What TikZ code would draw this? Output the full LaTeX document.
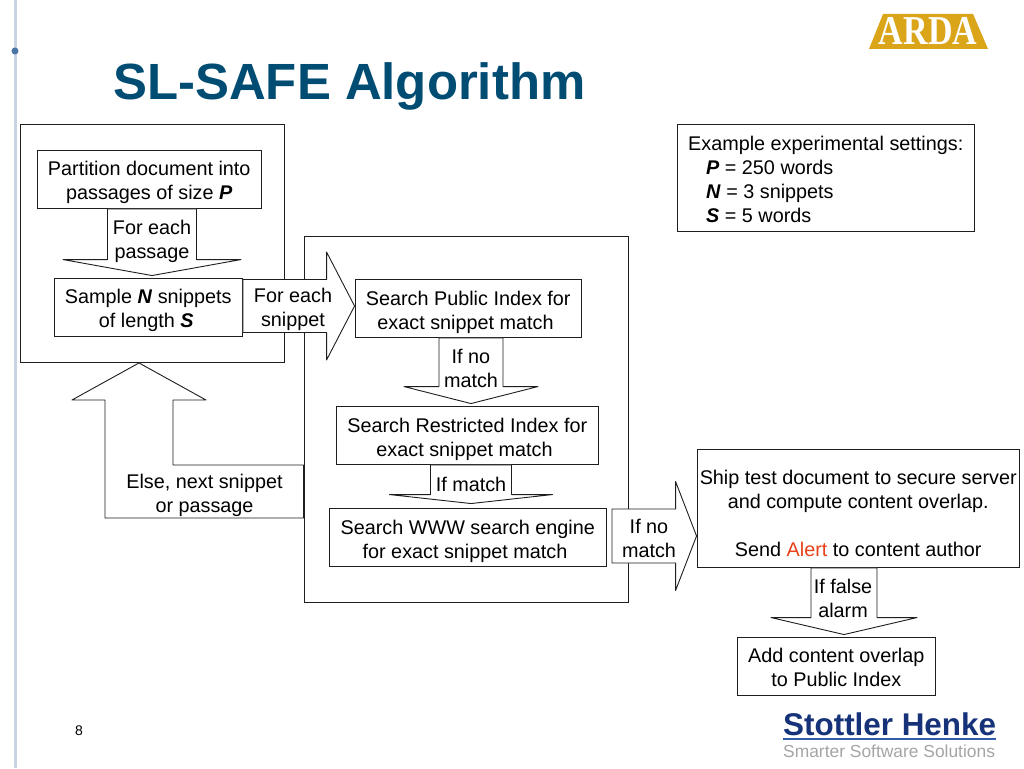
\documentclass[tikz,border=0pt]{standalone}
\usepackage{fontspec}
\setmainfont{Liberation Sans}
\newfontfamily\logofont{Liberation Serif}
\usetikzlibrary{calc}
\definecolor{titleblue}{RGB}{0,76,115}
\definecolor{barblue}{RGB}{200,212,228}
\definecolor{dotblue}{RGB}{74,118,165}
\definecolor{ardagold}{RGB}{219,165,25}
\definecolor{alertred}{RGB}{232,64,24}
\definecolor{henkeblue}{RGB}{22,50,120}
\definecolor{henkeline}{RGB}{46,92,168}
\definecolor{henkegrey}{RGB}{165,165,168}
\definecolor{lineblack}{RGB}{30,30,30}
\tikzset{
 flowbox/.style={draw=lineblack,line width=.9pt,fill=white,align=center,inner sep=0pt,text depth=0pt,text height=40.5pt,
  font=\fontsize{19.8}{24}\selectfont},
 framebox/.style={draw=lineblack,line width=.9pt,inner sep=0pt},
 blockarrow/.style={draw=lineblack,line width=.9pt,fill=white,line join=round},
 arrowtext/.style={align=center,inner sep=0pt,font=\fontsize{19.8}{24}\selectfont}
}
\newcommand{\blockdown}[7]{
 \coordinate (#1) at #2;
 \coordinate (#1tip) at ($(#1 |- #4)+(0,-2)$);
 \draw[blockarrow] ($(#1 |- #3)+(-#5,0)$)--($(#1tip)+(-#5,-#7)$)--($(#1tip)+(-#6,-#7)$)
  --(#1tip)--($(#1tip)+(#6,-#7)$)--($(#1tip)+(#5,-#7)$)--($(#1 |- #3)+(#5,0)$)--cycle;
}
\newcommand{\blockright}[7]{
 \coordinate (#1) at #2;
 \draw[blockarrow] ($(#3 |- #1)+(0,-#5)$)--($(#4 |- #1)+(-#7,-#5)$)--($(#4 |- #1)+(-#7,-#6)$)
  --(#4 |- #1)--($(#4 |- #1)+(-#7,#6)$)--($(#4 |- #1)+(-#7,#5)$)--($(#3 |- #1)+(0,#5)$)--cycle;
}
\begin{document}
\begin{tikzpicture}[x=1pt,y=-1pt,line cap=butt]
 \useasboundingbox (0,0) rectangle (1024,768);
 \fill[white] (0,0) rectangle (1024,768);
 \fill[barblue] (14,0) rectangle (17,768);
 \fill[dotblue] (15,51) circle (3.5);
 \node[anchor=base west,inner sep=0pt,text=titleblue,font=\fontsize{50.9}{60}\selectfont\bfseries] (title) at (113,99.5) {SL-SAFE Algorithm};
 \fill[ardagold] (883,14)--(973,14)--(988,49)--(869,49)--cycle;
 \node[text=white,inner sep=0pt,xscale=.83,transform shape,font=\fontsize{41}{44}\logofont\bfseries] (arda) at (928,31.5) {ARDA};
 \node[anchor=base west,inner sep=0pt,text=henkeblue,font=\fontsize{31.4}{34}\selectfont\bfseries] (henke) at (783,735) {Stottler Henke};
 \draw[henkeline,line width=1.8pt] (783,739)--(996,739);
 \node[anchor=base west,inner sep=0pt,text=henkegrey,font=\fontsize{17.4}{20}\selectfont] (smarter) at (783,757) {Smarter Software Solutions};
 \node[inner sep=0pt,font=\fontsize{14}{16}\selectfont] (pagenum) at (79,731) {8};
 % frames
 \node[framebox,minimum width=264.5pt,minimum height=238.5pt] (leftframe) at (152.25,243.25) {};
 \node[framebox,minimum width=324.5pt,minimum height=366.5pt] (rightframe) at (466.25,419.25) {};
 % boxes
 \node[flowbox,minimum width=224.5pt,minimum height=58.5pt] (partbox) at (149.25,179.25) {Partition document into\\passages of size \textbf{\textit{P}}};
 \node[flowbox,minimum width=188.5pt,minimum height=58.5pt] (samplebox) at (148.25,307.25) {Sample \textbf{\textit{N}} snippets\\of length \textbf{\textit{S}}\hspace*{4pt}};
 \node[flowbox,text height=42.5pt,minimum width=226.5pt,minimum height=58.5pt] (publicbox) at (468.25,308.25) {Search Public Index for\\exact snippet match\hspace*{5.5pt}};
 \node[flowbox,text height=42.5pt,minimum width=262.5pt,minimum height=58.5pt] (restrictbox) at (467.25,435.25) {Search Restricted Index for\\exact snippet match\hspace*{5.5pt}};
 \node[flowbox,text height=42.5pt,minimum width=277.5pt,minimum height=58.5pt] (wwwbox) at (467.75,537.25) {Search WWW search engine\\for exact snippet match\hspace*{5.5pt}};
 \node[flowbox,text height=96pt,minimum width=322.5pt,minimum height=118.5pt] (shipbox) at (858.25,508.25) {Ship test document to secure server\\and compute content overlap.\\[23.5pt]Send \textcolor{alertred}{Alert} to content author};
 \node[flowbox,minimum width=198.5pt,minimum height=58.5pt] (addbox) at (836.25,666.25) {Add content overlap\\to Public Index};
 \node[flowbox,text height=88.5pt,minimum width=297.5pt,minimum height=107.5pt,align=left] (settingsbox) at (825.75,177.75) {Example experimental settings:\\\hspace*{18pt}\textbf{\textit{P}} = 250 words\\\hspace*{18pt}\textbf{\textit{N}} = 3 snippets\\\hspace*{18pt}\textbf{\textit{S}} = 5 words};
 % block arrows
 \coordinate (wwwtop) at ($(wwwbox.north)+(0,-2)$);
 \coordinate (wwwgap) at ($(wwwbox.east)+(5,0)$);
 \blockdown{eachpass}{(152,240)}{partbox.south}{samplebox.north}{44.5}{89}{16}
 \blockright{eachsnip}{(293,306)}{samplebox.east}{publicbox.west}{26.5}{54}{28}
 \blockdown{nomatch}{(471,369)}{publicbox.south}{restrictbox.north}{32}{67}{17}
 \blockdown{ifmatch}{(471,483)}{restrictbox.south}{wwwtop}{40.5}{81.5}{9}
 \blockright{wwwnomatch}{(649,536)}{wwwgap}{shipbox.west}{27}{54.5}{21}
 \blockdown{falsealarm}{(844,598)}{shipbox.south}{addbox.north}{33}{73}{17}
 \draw[blockarrow] (rightframe.west |- 0,465)--(173,465)--(173,400)--(206,400)--(139,0 |- leftframe.south)
  --(72,400)--(105,400)--(105,518)--(rightframe.west |- 0,518)--cycle;
 % arrow labels
 \node[arrowtext] (eachpasstext) at (152,241) {For each\\passage};
 \node[arrowtext] (eachsniptext) at (293,309) {For each\\snippet};
 \node[arrowtext] (nomatchtext) at (471,368) {If no\\match};
 \node[arrowtext] (ifmatchtext) at (471,484) {If match};
 \node[arrowtext] (wwwnomatchtext) at (649,538) {If no\\match};
 \node[arrowtext] (falsealarmtext) at (843,598) {If false\\alarm};
 \node[arrowtext] (elsetext) at (204.5,495) {Else, next snippet\\or passage};
\end{tikzpicture}
\end{document}
